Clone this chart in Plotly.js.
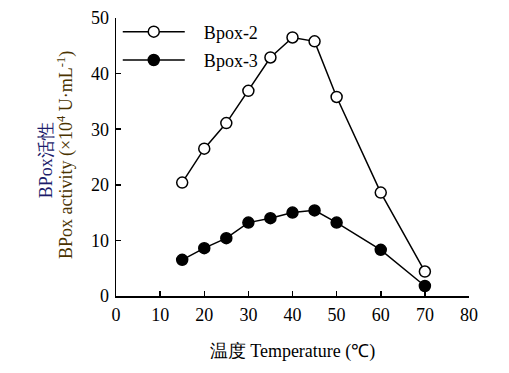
<!DOCTYPE html>
<html>
<head>
<meta charset="utf-8">
<script src="https://cdn.plot.ly/plotly-3.0.1.min.js"></script>
<style>html,body{margin:0;padding:0;background:#fff;}#chart{width:509px;height:373px;}</style>
</head>
<body>
<div id="chart"></div>
<script>
const temperature = [15, 20, 25, 30, 35, 40, 45, 50, 60, 70];
const bpox2 = [20.4, 26.5, 31.1, 36.9, 42.9, 46.5, 45.8, 35.8, 18.6, 4.4];
const bpox3 = [6.5, 8.6, 10.4, 13.2, 14.0, 15.0, 15.4, 13.2, 8.3, 1.8];
const seriesNames = ['Bpox-2', 'Bpox-3'];
const xTicks = [0, 10, 20, 30, 40, 50, 60, 70, 80];
const yTicks = [0, 10, 20, 30, 40, 50];

const font = '"Liberation Serif", "Times New Roman", serif';
const fs = 18;
const pad = '\u2002\u200A\u2009';
const traces = [
  {x: temperature, y: bpox2, name: pad + seriesNames[0], legendgroup: 'a', mode: 'lines+markers', type: 'scatter',
   line: {color: '#000', width: 1.5},
   marker: {symbol: 'circle', size: 11, color: '#fff', line: {color: '#000', width: 1.5}}},
  {x: temperature, y: bpox3, name: pad + seriesNames[1], legendgroup: 'b', mode: 'lines+markers', type: 'scatter',
   line: {color: '#000', width: 1.5},
   marker: {symbol: 'circle', size: 11, color: '#000', line: {color: '#000', width: 1.5}}}
];
const layout = {
  width: 509, height: 373,
  margin: {l: 116, r: 40, t: 5, b: 77},
  paper_bgcolor: '#fff', plot_bgcolor: '#fff',
  font: {family: font, size: fs, color: '#000'},
  showlegend: true,
  legend: {x: 0.005, y: 0.971, xanchor: 'left', yanchor: 'top', bgcolor: 'rgba(0,0,0,0)',
           font: {family: font, size: fs}, tracegroupgap: 2, itemwidth: 62},
  xaxis: {range: [0, 80], tickvals: xTicks, ticktext: xTicks.map(String),
          showline: true, linecolor: '#000', linewidth: 1.5, ticks: 'inside', ticklen: 5, tickwidth: 1.5,
          tickcolor: '#000', showgrid: false, zeroline: false, mirror: false,
          tickfont: {family: font, size: fs}, ticklabelstandoff: 2,
          title: {text: '温度 Temperature (℃)', font: {family: font, size: fs}, standoff: 20}},
  yaxis: {range: [0, 50], domain: [0, 0.9553], tickvals: yTicks, ticktext: yTicks.map(String),
          showline: true, linecolor: '#000', linewidth: 1.5, ticks: 'inside', ticklen: 5, tickwidth: 1.5,
          tickcolor: '#000', showgrid: false, zeroline: false, mirror: false,
          tickfont: {family: font, size: fs}, ticklabelstandoff: 2},
  annotations: [
    {text: 'BPox活性', xref: 'paper', yref: 'paper', x: -0.2, y: 0.468, textangle: -90,
     showarrow: false, xanchor: 'center', yanchor: 'middle', font: {family: font, size: fs, color: '#1c1c6b'}},
    {text: 'BPox activity (×10<sup>4</sup> U·mL<sup>-1</sup>)', xref: 'paper', yref: 'paper', x: -0.143, y: 0.4825, textangle: -90,
     showarrow: false, xanchor: 'center', yanchor: 'middle', font: {family: font, size: fs, color: '#4a3300'}}
  ]
};
Plotly.newPlot('chart', traces, layout, {displayModeBar: false, staticPlot: true});
</script>
</body>
</html>
